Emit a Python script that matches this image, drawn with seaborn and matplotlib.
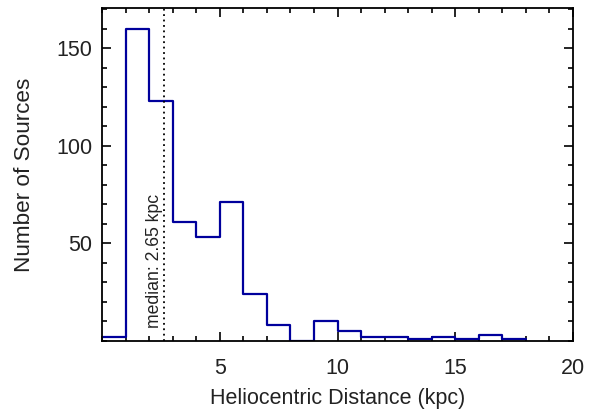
import numpy as np
import pandas as pd
import matplotlib
matplotlib.use("Agg")
import matplotlib.pyplot as plt
from matplotlib.ticker import MultipleLocator, FixedLocator
import seaborn as sns

# Data (bins of 1 kpc from 0 to 18)
bin_left = list(range(0, 18))
counts = [2, 160, 123, 61, 53, 71, 24, 8, 0, 10, 5, 2, 2, 1, 2, 1, 3, 1]
median_kpc = 2.65
x_ticks = [5, 10, 15, 20]
y_ticks = [50, 100, 150]

sns.set_style("ticks")
plt.rcParams["font.family"] = ["Liberation Sans", "DejaVu Sans"]

df = pd.DataFrame({"dist": [b + 0.5 for b in bin_left], "n": counts})

fig = plt.figure(figsize=(5.89, 4.18), dpi=100)
ax = fig.add_axes([102 / 589, (418 - 341) / 418, (573 - 102) / 589, (341 - 8) / 418])

sns.histplot(data=df, x="dist", weights="n", binwidth=1, binrange=(0, 18),
             element="step", fill=False, color="#00009c", linewidth=1.6, ax=ax)

ax.axvline(median_kpc, color="black", linestyle=(0, (1, 2)), linewidth=1.3)
ax.text(2.25, 6.5, "median: 2.65 kpc", rotation=90, ha="center", va="bottom",
        fontsize=12.7, color="#222222")

ax.set_xlim(0, 20)
ax.set_ylim(0, 170.5)
ax.xaxis.set_major_locator(FixedLocator(x_ticks))
ax.xaxis.set_minor_locator(MultipleLocator(1))
ax.yaxis.set_major_locator(FixedLocator(y_ticks))
ax.yaxis.set_minor_locator(MultipleLocator(10))
ax.tick_params(which="both", direction="in", top=True, right=True, width=1.2,
               labelsize=15.5, colors="black", labelcolor="#222222")
ax.tick_params(which="major", length=6.5)
ax.tick_params(which="minor", length=3.3)
ax.tick_params(axis="x", which="major", pad=12)
ax.tick_params(axis="y", which="major", pad=7)
for s in ax.spines.values():
    s.set_linewidth(1.3)
    s.set_color("black")

ax.set_xlabel("Heliocentric Distance (kpc)", fontsize=15.5, labelpad=7, color="#222222")
ax.set_ylabel("Number of Sources", fontsize=16.2, labelpad=15, color="#222222")

fig.savefig("out.png", dpi=100)
